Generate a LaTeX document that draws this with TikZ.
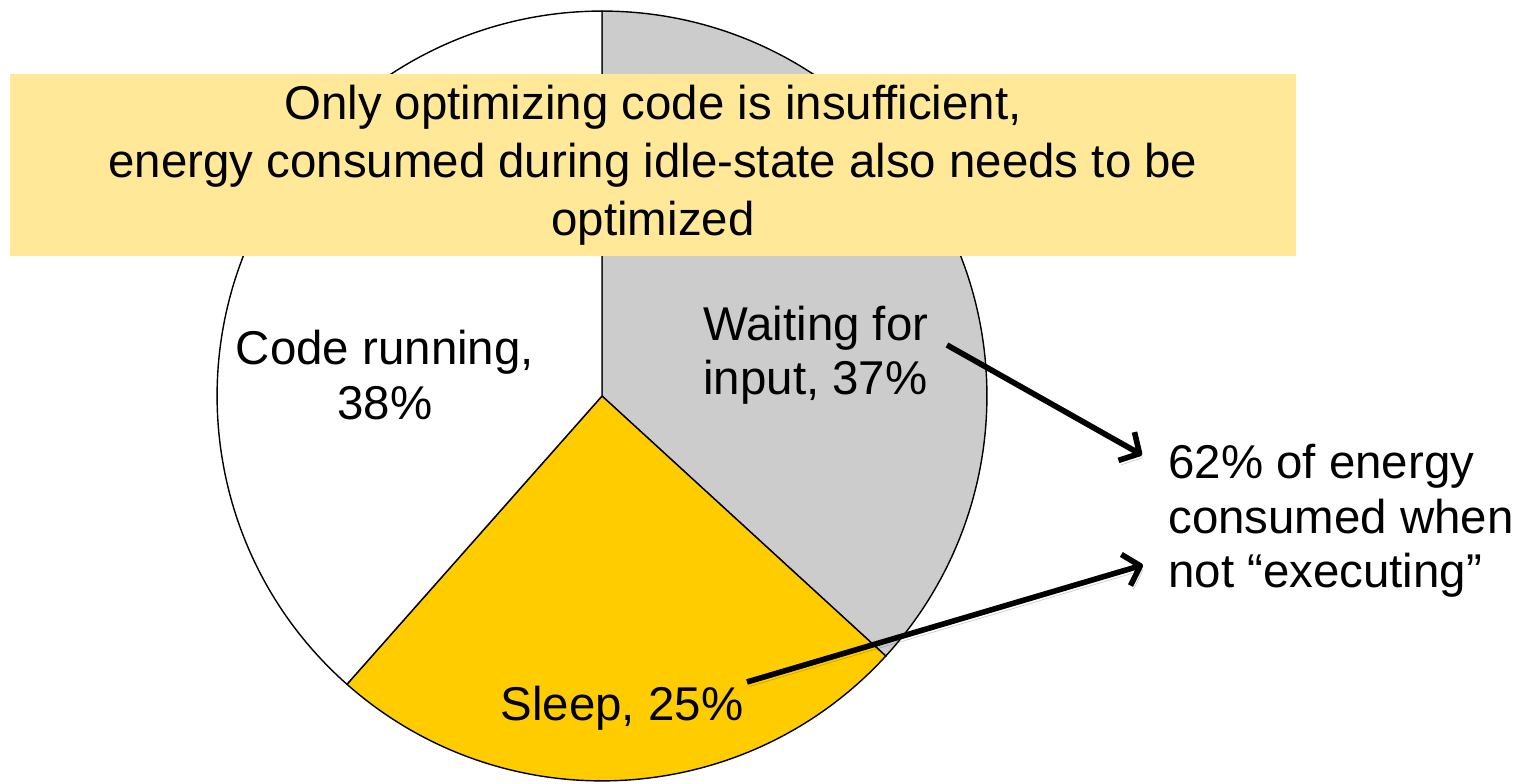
\documentclass[tikz,border=0pt]{standalone}
\usepackage{fontspec}
\setmainfont{Liberation Sans}
\usepackage{xcolor}
\usetikzlibrary{arrows.meta, positioning, calc}

\definecolor{slicegray}{HTML}{CCCCCC}
\definecolor{sliceyellow}{HTML}{FFCC00}
\definecolor{bannerfill}{HTML}{FFE999}

\begin{document}
\begin{tikzpicture}[
    x=0.02cm, y=0.02cm,
    font=\fontsize{27}{31}\selectfont,
    slice/.style={fill=#1, draw=black, line width=0.8pt},
    lbl/.style={inner sep=0pt, align=#1},
    banner/.style={rectangle, fill=bannerfill, minimum width=25.72cm,
                   minimum height=3.64cm, inner sep=0pt, align=center,
                   font=\fontsize{27}{33}\selectfont},
    arr/.style={-{Straight Barb[length=3mm, width=6.5mm, line join=round]},
                line width=3.2pt,
                preaction={draw=black, opacity=0.2,
                           transform canvas={shift={(1.5pt,-2.5pt)}}}}
  ]
  \useasboundingbox (0,0) rectangle (1518,784);

  % pie
  \coordinate (c) at (602,388);
  \draw[slice=slicegray]   (c) -- ++(90:7.7cm)
    arc[start angle=90, end angle=-42.5, radius=7.7cm] -- cycle;
  \draw[slice=sliceyellow] (c) -- ++(-42.5:7.7cm)
    arc[start angle=-42.5, end angle=-131.5, radius=7.7cm] -- cycle;
  \draw[slice=white]       (c) -- ++(-131.5:7.7cm)
    arc[start angle=-131.5, end angle=-270, radius=7.7cm] -- cycle;

  \node[banner] (msg) at (653,619)
    {Only optimizing code is insufficient,\\energy consumed during idle-state also needs to be\\optimized};

  \node[lbl=center] (run) at (385,409) {Code running,\\38\%};
  \node[lbl=left, anchor=west] (wait) at (703,429) {Waiting for\\input, 37\%};
  \node[lbl=center] (sleep) at (622,76) {Sleep, 25\%};
  \node[lbl=left, anchor=west] (note) at (1168,263)
    {62\% of energy\\consumed when\\not “executing”};

  \coordinate (wait-tail)  at (947,439);
  \coordinate (sleep-tail) at (747,102);
  \coordinate (note-in1)   at (1142,329);
  \coordinate (note-in2)   at (1143,219);

  \foreach \a/\b in {wait-tail/note-in1, sleep-tail/note-in2}
    \draw[arr] (\a) -- (\b);

\end{tikzpicture}
\end{document}
